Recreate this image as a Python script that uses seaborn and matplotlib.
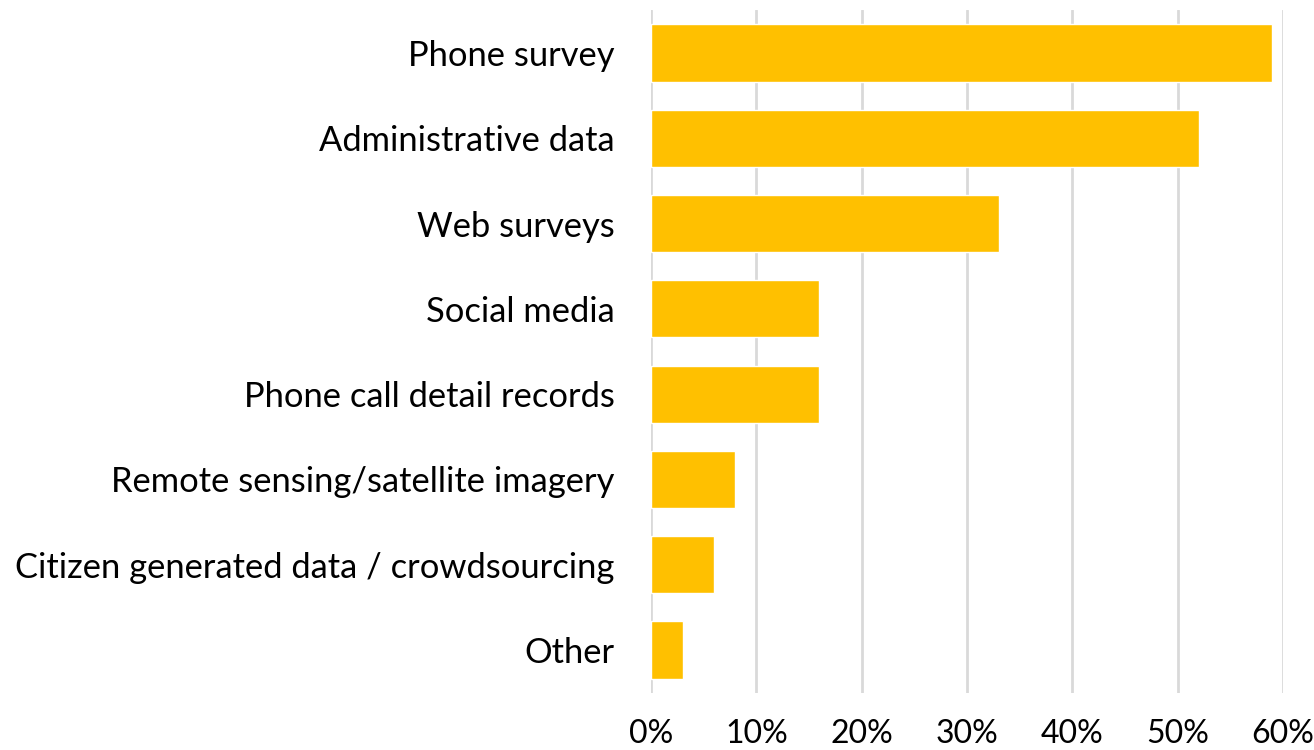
import matplotlib
matplotlib.use("Agg")
import matplotlib.pyplot as plt
from matplotlib.ticker import FuncFormatter, MultipleLocator
import seaborn as sns
import pandas as pd

categories = [
    "Phone survey",
    "Administrative data",
    "Web surveys",
    "Social media",
    "Phone call detail records",
    "Remote sensing/satellite imagery",
    "Citizen generated data / crowdsourcing",
    "Other",
]
shares = [0.59, 0.52, 0.33, 0.16, 0.16, 0.08, 0.06, 0.03]

df = pd.DataFrame({"source": categories, "share": shares})

sns.set_theme(style="white")
plt.rcParams["font.family"] = ["Lato", "DejaVu Sans"]

fig = plt.figure(figsize=(13.14, 7.5), dpi=100)
ax = fig.add_axes([0.4954, 0.0765, 0.4810, 0.9096])

sns.barplot(data=df, x="share", y="source", color="#FFC000", saturation=1,
            width=0.67, ax=ax, zorder=3)

ax.set_xlim(0, 0.6)
ax.set_ylim(len(categories) - 0.5, -0.5)
ax.xaxis.set_major_locator(MultipleLocator(0.1))
ax.xaxis.set_major_formatter(FuncFormatter(lambda v, _: f"{v * 100:.0f}%"))
ax.grid(axis="x", color="#D9D9D9", linewidth=2, zorder=0)
ax.grid(axis="y", visible=False)
for s in ax.spines.values():
    s.set_visible(False)

ax.set_xlabel("")
ax.set_ylabel("")
ax.tick_params(axis="x", length=0, pad=19, labelsize=23, labelcolor="black")
ax.tick_params(axis="y", length=0, pad=26, labelsize=24.8, labelcolor="black")

fig.savefig("out.png", dpi=100)
